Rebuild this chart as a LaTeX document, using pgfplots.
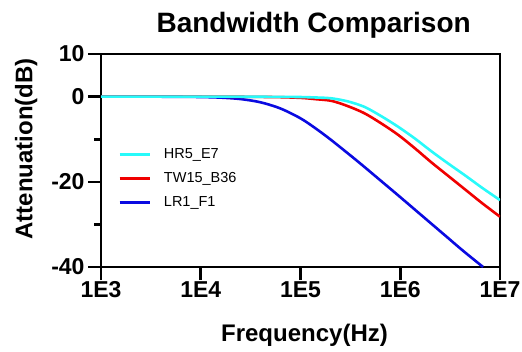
\documentclass[border=0pt]{standalone}
\usepackage{pgfplots}
\pgfplotsset{compat=1.18}
\usepackage{fontspec}
\setmainfont{Liberation Sans}
\definecolor{ccyan}{RGB}{40,250,250}
\definecolor{cred}{RGB}{240,0,0}
\definecolor{cblue}{RGB}{10,10,225}
\begin{document}
\begin{tikzpicture}
\path[use as bounding box] (0pt,0pt) rectangle (522pt,351pt);
\begin{axis}[
  name=ax,
  at={(101pt,84pt)}, anchor=south west,
  width=399pt, height=213pt, scale only axis,
  axis lines=box,
  xmode=log, xmin=1e3, xmax=1e7,
  ymin=-40, ymax=10,
  xtick={1e3,1e4,1e5,1e6,1e7},
  xticklabels={1E3,1E4,1E5,1E6,1E7},
  xminorticks=false,
  ytick={-40,-20,0,10},
  yticklabels={-40,-20,0,10},
  minor ytick={-30,-10},
  tick align=outside,
  xtick pos=bottom, ytick pos=left,
  major tick length=13pt, minor tick length=7pt,
  every tick/.style={black, line width=2.6pt},
  axis line style={black, line width=2.6pt},
  tick label style={font=\fontsize{23}{26}\selectfont\bfseries},
  xticklabel style={yshift=2pt},
  title={Bandwidth Comparison},
  title style={at={(axis description cs:0.533,1.072)}, anchor=base, font=\fontsize{28}{32}\selectfont\bfseries},
  xlabel={Frequency(Hz)},
  xlabel style={at={(axis description cs:0.51,-0.352)}, anchor=base, font=\fontsize{24}{28}\selectfont\bfseries},
  ylabel={Attenuation(dB)},
  ylabel style={at={(axis description cs:-0.172,0.555)}, anchor=base, rotate=0, font=\fontsize{24}{28}\selectfont\bfseries},
  legend style={at={(axis description cs:0.0425,0.565)}, anchor=north west, draw=none, fill=none,
    nodes={font=\fontsize{14.5}{16}\selectfont}, row sep=8.5pt, inner sep=0pt},
  legend cell align=left,
  reverse legend,
  legend image code/.code={\draw[line width=3pt,#1] (0pt,0pt) -- (30pt,0pt); \path (41pt,0pt);},
]
\addplot[cblue, line width=2.6pt, smooth] coordinates {
(1000,0) (5012,-0.03) (10000,-0.1) (15849,-0.24) (25119,-0.58) (39811,-1.34)
(63096,-2.8) (100000,-5.1) (141254,-7.44) (199526,-10.05) (316228,-13.8)
(426580,-16.3) (630957,-19.65) (933254,-23.0) (1348963,-26.2) (1995262,-29.6)
(2951209,-33.0) (4265795,-36.2) (6760830,-40.0)
};
\addlegendentry{LR1\_F1}
\addplot[cred, line width=2.6pt, smooth] coordinates {
(1000,0) (10000,0) (50119,-0.1) (100000,-0.3) (141254,-0.6) (204174,-1.0)
(295121,-2.2) (436516,-3.9) (645654,-6.3) (954993,-9.0) (1412538,-12.2)
(2041738,-15.4) (3019952,-18.6) (4466836,-21.8) (6606934,-25.0) (10000000,-28.2)
};
\addlegendentry{TW15\_B36}
\addplot[ccyan, line width=2.6pt, smooth] coordinates {
(1000,0) (10000,0) (50119,-0.05) (100000,-0.1) (158489,-0.25) (204174,-0.4)
(295121,-1.1) (436516,-2.4) (645654,-4.6) (954993,-7.1) (1412538,-9.9)
(2041738,-12.8) (3019952,-15.7) (4466836,-18.5) (6606934,-21.4) (10000000,-24.3)
};
\addlegendentry{HR5\_E7}
\end{axis}
\end{tikzpicture}
\end{document}
